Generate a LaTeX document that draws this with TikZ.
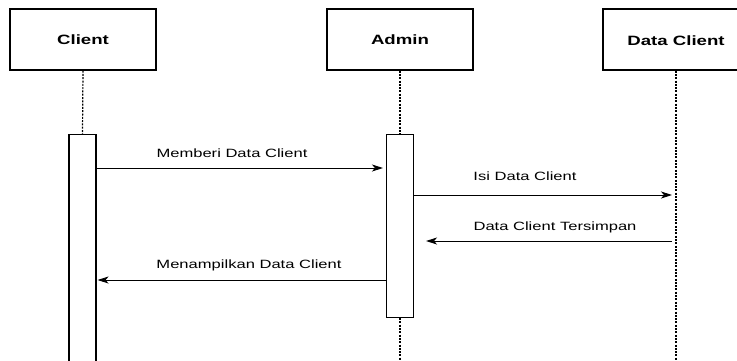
\documentclass[tikz,border=0pt]{standalone}
\usepackage{fontspec}
\setmainfont{Liberation Sans}[FakeStretch=1.38]
\usetikzlibrary{arrows.meta}
\begin{document}
\begin{tikzpicture}[x=1pt,y=-1pt,
  header/.style={draw=black, line width=1.2pt, fill=white, minimum width=146pt, minimum height=61pt, inner sep=0pt, font=\fontsize{13.5}{15}\selectfont\bfseries},
  actbox/.style={draw=black, line width=1.1pt, fill=white, minimum width=27pt, inner sep=0pt, anchor=north},
  lifeline/.style={line width=1.2pt, dash pattern=on 2pt off 1.3pt},
  msg/.style={line width=0.9pt, -{Stealth[length=11pt, width=7pt, inset=3pt]}},
  lbl/.style={font=\fontsize{12}{14}\selectfont, inner sep=0pt}]
\useasboundingbox (0,0) rectangle (737,360);
\clip (0,0) rectangle (737,360);
% header boxes
\node[header] (client) at (83,39.5) {Client};
\node[header] (admin) at (400,39.5) {Admin};
\node[header, minimum width=146pt] (dataclient) at (676,39.5) {};
\node[font=\fontsize{13.5}{15}\selectfont\bfseries, inner sep=0pt] (dctext) at (676,41) {Data Client};
% lifelines
\coordinate (clientend) at (83,362);
\coordinate (adminend) at (400,362);
\coordinate (dcend) at (676,360);
\node[actbox, minimum height=230pt] (clientact) at (82.5,134) {};
\node[actbox, minimum height=183pt] (adminact) at (400,134) {};
\draw[lifeline] (client.south) -- (clientact.north);
\draw[lifeline] (admin.south) -- (adminact.north);
\draw[lifeline] (adminact.south) -- (adminend);
\draw[lifeline] (dataclient.south) -- (dcend);
% messages
\coordinate (dcl1) at (672,195);
\coordinate (dcl2) at (672,241);
\draw[msg] (clientact.east |- 0,168) -- ([xshift=-3pt]adminact.west |- 0,168);
\draw[msg] (adminact.east |- 0,195) -- (dcl1);
\draw[msg] (dcl2) -- ([xshift=12pt]adminact.east |- 0,241);
\draw[msg] (adminact.west |- 0,280) -- ([xshift=1pt]clientact.east |- 0,280);
% labels
\node[lbl] (l1) at (232,153) {Memberi Data Client};
\node[lbl] (l2) at (525,176) {Isi Data Client};
\node[lbl] (l3) at (555,227) {Data Client Tersimpan};
\node[lbl] (l4) at (249,265) {Menampilkan Data Client};
\end{tikzpicture}
\end{document}
